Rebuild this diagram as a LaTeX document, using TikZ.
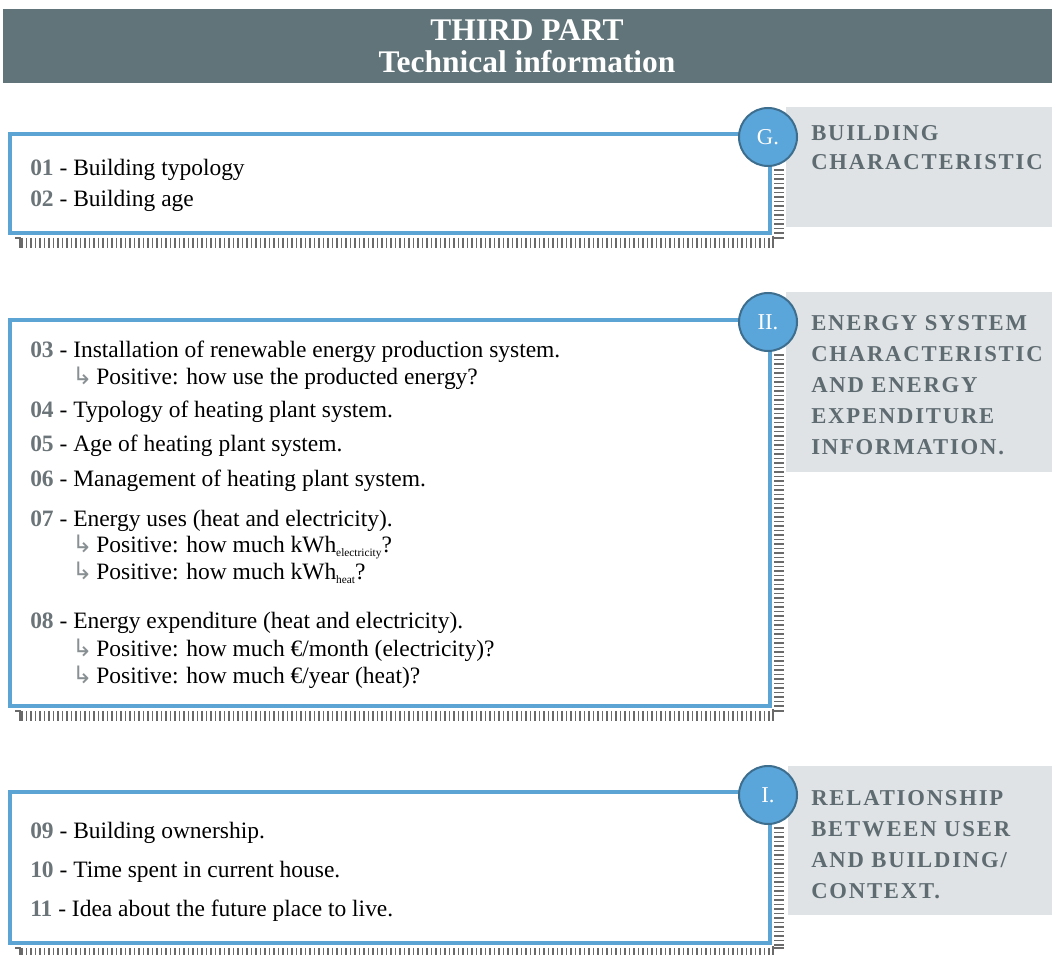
\documentclass[tikz,border=0pt]{standalone}
\usepackage{fontspec}
\setmainfont{Liberation Serif}
\newfontfamily\arrowfont{DejaVu Sans}
\newfontfamily\panelfont[LetterSpace=8]{Liberation Serif}

\definecolor{headbar}{HTML}{607479}
\definecolor{frameblue}{HTML}{5BA4D4}
\definecolor{circblue}{HTML}{5AA5DA}
\definecolor{circedge}{HTML}{3E6E8E}
\definecolor{panelgray}{HTML}{DFE3E5}
\definecolor{paneltext}{HTML}{5E6B71}
\definecolor{numgray}{HTML}{6B7478}
\definecolor{tickgray}{HTML}{6A6A6A}

% question number and follow-up marker
\newcommand\qnum[1]{{\bfseries\color{numgray}#1}}
\newcommand\followup{{\arrowfont\fontsize{18}{18}\selectfont\color{numgray!80}↳}\hspace{3pt}}
\newcommand\lowsub[1]{\raisebox{-3.5pt}{\fontsize{8.5}{8.5}\selectfont #1}}

% ruler-like hatching along the bottom and right side of a frame
% #1 left, #2 top, #3 right, #4 bottom
\newcommand\rulerframe[4]{%
  \pgfmathsetmacro\hstart{#1+12}%
  \pgfmathsetmacro\hnext{#1+16.5}%
  \pgfmathsetmacro\hy{#4+5}%
  \pgfmathsetmacro\hyy{#4+15}%
  \foreach \x in {\hstart,\hnext,...,#3} \draw[tick] (\x,\hy) -- (\x,\hyy);
  \draw[tick] (#1+5,\hy) -- (#1+10,\hy) -- (#1+10,\hyy);
  \draw[tick] (#3+3,\hy-2) -- (#3+3,\hyy) (#3+3,\hy) -- (#3+14,\hy);
  \pgfmathsetmacro\vstart{#2+33}%
  \pgfmathsetmacro\vnext{#2+37.5}%
  \foreach \y in {\vstart,\vnext,...,\hy} \draw[tick] (#3+4,\y) -- (#3+14,\y);
}

\begin{document}
\begin{tikzpicture}[x=0.75pt,y=-0.75pt,
  frame/.style={draw=frameblue,line width=3.6pt},
  tick/.style={draw=tickgray,line width=0.9pt},
  badge/.style={circle,fill=circblue,draw=circedge,line width=1.5pt,
    minimum size=43.5pt,inner sep=0pt,text=white,
    font=\fontsize{17}{17}\selectfont},
  item/.style={anchor=base west,inner sep=0pt,
    font=\fontsize{17.6}{20}\selectfont},
  ptitle/.style={anchor=base west,inner sep=0pt,text=paneltext,
    font=\panelfont\bfseries\fontsize{17}{18}\selectfont},
  headtxt/.style={anchor=base,inner sep=0pt,text=white,
    font=\bfseries\fontsize{23.6}{24}\selectfont}]
\useasboundingbox (0,0) rectangle (1052,955);
\fill[white] (0,0) rectangle (1052,955);
\begin{scope}
\clip (0,0) rectangle (1052,955);

% title bar
\fill[headbar] (3,9) rectangle (1052,83);
\node[headtxt] (head1) at (527,41) {THIRD PART};
\node[headtxt] (head2) at (527,73) {Technical information};

% ---------- G. building characteristics ----------
\fill[panelgray] (786,107) rectangle (1052,227);
\draw[frame] (10,134) rectangle (770,233);
\rulerframe{10}{137}{770}{233}
\node[badge] (badgeG) at (768,137) {G.};
\node[ptitle] (tG1) at (811,141) {BUILDING};
\node[ptitle] (tG2) at (811,170) {CHARACTERISTIC};
\node[item] (q01) at (30,176) {\qnum{01} - Building typology};
\node[item] (q02) at (30,207) {\qnum{02} - Building age};

% ---------- II. energy system ----------
\fill[panelgray] (786,292) rectangle (1052,472);
\draw[frame] (10,320) rectangle (770,706);
\rulerframe{10}{322}{770}{706}
\node[badge] (badgeH) at (768,322) {II.};
\node[ptitle] (tH1) at (811,330) {ENERGY SYSTEM};
\node[ptitle] (tH2) at (811,361) {CHARACTERISTIC};
\node[ptitle] (tH3) at (811,392) {AND ENERGY};
\node[ptitle] (tH4) at (811,423) {EXPENDITURE};
\node[ptitle] (tH5) at (811,454) {INFORMATION.};
\node[item] (q03) at (30,358) {\qnum{03} - Installation of renewable energy production system.};
\node[item] (q03a) at (72,384) {\followup Positive: how use the producted energy?};
\node[item] (q04) at (30,417) {\qnum{04} - Typology of heating plant system.};
\node[item] (q05) at (30,451) {\qnum{05} - Age of heating plant system.};
\node[item] (q06) at (30,486) {\qnum{06} - Management of heating plant system.};
\node[item] (q07) at (30,526) {\qnum{07} - Energy uses (heat and electricity).};
\node[item] (q07a) at (72,552) {\followup Positive: how much kWh\lowsub{electricity}?};
\node[item] (q07b) at (72,579) {\followup Positive: how much kWh\lowsub{heat}?};
\node[item] (q08) at (30,628) {\qnum{08} - Energy expenditure (heat and electricity).};
\node[item] (q08a) at (72,656) {\followup Positive: how much €/month (electricity)?};
\node[item] (q08b) at (72,683) {\followup Positive: how much €/year (heat)?};

% ---------- I. relationship user / building ----------
\fill[panelgray] (788,766) rectangle (1052,915);
\draw[frame] (10,792) rectangle (770,943);
\rulerframe{10}{795}{770}{943}
\node[badge] (badgeI) at (768,795) {I.};
\node[ptitle] (tI1) at (811,805) {RELATIONSHIP};
\node[ptitle] (tI2) at (811,836) {BETWEEN USER};
\node[ptitle] (tI3) at (811,867) {AND BUILDING/};
\node[ptitle] (tI4) at (811,898) {CONTEXT.};
\node[item] (q09) at (30,838) {\qnum{09} - Building ownership.};
\node[item] (q10) at (30,877) {\qnum{10} - Time spent in current house.};
\node[item] (q11) at (30,916) {\qnum{11} - Idea about the future place to live.};
\end{scope}
\end{tikzpicture}
\end{document}
